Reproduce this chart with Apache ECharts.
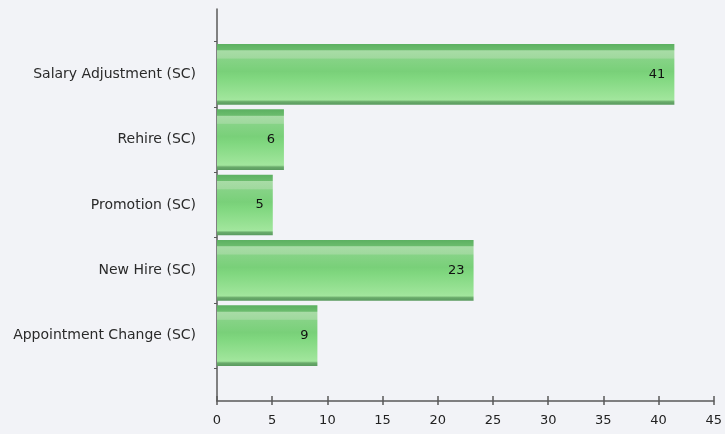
<!DOCTYPE html>
<html>
<head>
<meta charset="utf-8">
<script src="https://cdn.jsdelivr.net/npm/echarts@6/dist/echarts.min.js"></script>
<style>
  html, body { margin: 0; padding: 0; background: #f2f3f7; }
  #main { width: 725px; height: 434px; }
</style>
</head>
<body>
<div id="main"></div>
<script>
// data, bottom to top
const categories = ['Appointment Change (SC)', 'New Hire (SC)', 'Promotion (SC)', 'Rehire (SC)', 'Salary Adjustment (SC)']
const counts = [9, 23, 5, 6, 41]
const xTicks = { min: 0, max: 45, interval: 5 }

const barColor = new echarts.graphic.LinearGradient(0, 0, 0, 1, [
  { offset: 0, color: '#5cb061' },
  { offset: 0.1, color: '#6bbc6d' },
  { offset: 0.11, color: '#a8dca6' },
  { offset: 0.23, color: '#a0d99e' },
  { offset: 0.25, color: '#86d386' },
  { offset: 0.45, color: '#79d079' },
  { offset: 0.55, color: '#80d77f' },
  { offset: 0.92, color: '#a2e69d' },
  { offset: 0.95, color: '#6aab6b' },
  { offset: 1, color: '#5a9a5f' }
])

const axisGrey = '#5a5a5a'
const font = 'DejaVu Sans, Verdana, sans-serif'

const option = {
  backgroundColor: '#f2f3f7',
  animation: false,
  grid: [
    { left: 217, right: 6, top: 41.7, bottom: 65.7 },
    { left: 217, right: 6, top: 9, bottom: 33 }
  ],
  xAxis: [
    { gridIndex: 0, type: 'value', min: xTicks.min, max: xTicks.max, interval: xTicks.interval, show: false },
    {
      gridIndex: 1, type: 'value', position: 'bottom',
      min: xTicks.min, max: xTicks.max, interval: xTicks.interval,
      axisLine: { show: true, lineStyle: { color: axisGrey, width: 1.5 } },
      axisTick: { show: true, length: 4, lineStyle: { color: axisGrey, width: 1.5 } },
      axisLabel: { color: '#222', fontSize: 13, fontFamily: font, margin: 13 },
      splitLine: { show: false }
    },
    {
      gridIndex: 1, type: 'value', position: 'bottom',
      min: xTicks.min, max: xTicks.max, interval: xTicks.interval,
      axisLine: { show: false },
      axisTick: { show: true, inside: true, length: 5, lineStyle: { color: axisGrey, width: 1.5 } },
      axisLabel: { show: false },
      splitLine: { show: false }
    }
  ],
  yAxis: [
    {
      gridIndex: 0, type: 'category', data: categories,
      axisLine: { show: false },
      axisTick: { show: true, length: 3, lineStyle: { color: axisGrey } },
      axisLabel: { color: '#2a2a2a', fontSize: 14, fontFamily: font, margin: 21 }
    },
    {
      gridIndex: 1, type: 'value', min: 0, max: 1,
      axisLine: { show: true, lineStyle: { color: axisGrey, width: 1.5 } },
      axisTick: { show: false },
      axisLabel: { show: false },
      splitLine: { show: false }
    }
  ],
  series: [
    {
      type: 'bar',
      xAxisIndex: 0,
      yAxisIndex: 0,
      data: counts,
      barWidth: '93%',
      itemStyle: { color: barColor },
      label: {
        show: true,
        position: 'insideRight',
        distance: 9,
        color: '#111',
        fontSize: 13,
        fontFamily: font
      }
    }
  ]
}

const chart = echarts.init(document.getElementById('main'))
chart.setOption(option)
window.addEventListener('resize', () => chart.resize())
</script>
</body>
</html>
